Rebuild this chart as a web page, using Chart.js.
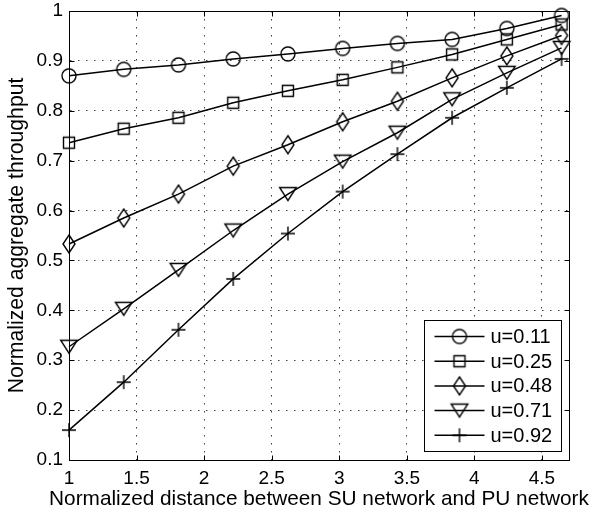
<!DOCTYPE html>
<html>
<head>
<meta charset="utf-8">
<script src="https://cdn.jsdelivr.net/npm/chart.js@4.4.1/dist/chart.umd.min.js"></script>
<style>
  html, body { margin: 0; padding: 0; background: #fff; }
</style>
</head>
<body>
<canvas id="myChart" width="592" height="515"></canvas>
<script>
// distance values along x
const distances = [1, 1.405, 1.81, 2.215, 2.62, 3.025, 3.43, 3.835, 4.24, 4.645];

const u011 = [0.870, 0.883, 0.892, 0.904, 0.914, 0.925, 0.935, 0.943, 0.965, 0.991];
const u025 = [0.736, 0.764, 0.786, 0.816, 0.840, 0.862, 0.887, 0.913, 0.943, 0.973];
const u048 = [0.533, 0.585, 0.633, 0.689, 0.732, 0.778, 0.819, 0.866, 0.910, 0.951];
const u071 = [0.327, 0.403, 0.481, 0.560, 0.633, 0.698, 0.756, 0.823, 0.876, 0.926];
const u092 = [0.160, 0.256, 0.361, 0.463, 0.554, 0.638, 0.713, 0.786, 0.846, 0.904];

const seriesLabels = ['u=0.11', 'u=0.25', 'u=0.48', 'u=0.71', 'u=0.92'];
const markerKinds = ['circle', 'square', 'diamond', 'tri', 'plus'];
const xTitle = 'Normalized distance between SU network and PU network';
const yTitle = 'Normalized aggregate throughput';

const FONT = '"Liberation Sans", Arial, Helvetica, sans-serif';

// matlab-like open markers drawn on small canvases
function makeMarker(kind) {
    const c = document.createElement('canvas');
    c.width = 24; c.height = 24;
    const g = c.getContext('2d');
    g.strokeStyle = '#000';
    g.lineWidth = 1.4;
    g.translate(12, 12);
    g.beginPath();
    if (kind == 'circle') g.arc(0, 0, 7, 0, 2 * Math.PI);
    else if (kind == 'square') g.rect(-5.5, -5.5, 11, 11);
    else if (kind == 'diamond') { g.moveTo(0, -9); g.lineTo(6, 0); g.lineTo(0, 9); g.lineTo(-6, 0); g.closePath(); }
    else if (kind == 'tri') { g.moveTo(-8.3, -6.5); g.lineTo(8.3, -6.5); g.lineTo(0, 6.5); g.closePath(); }
    else if (kind == 'plus') { g.moveTo(-7, 0); g.lineTo(7, 0); g.moveTo(0, -7); g.lineTo(0, 7); }
    g.stroke();
    return c;
}
const markers = markerKinds.map(makeMarker);

function toPoints(ys) {
    return ys.map(function(y, i) { return {x: distances[i], y: y}; });
}

const datasets = [u011, u025, u048, u071, u092].map(function(ys, i) {
    return {
        label: seriesLabels[i],
        data: toPoints(ys),
        borderColor: '#000',
        borderWidth: 1.5,
        pointStyle: markers[i],
        pointRadius: 8,
        clip: false,
        tension: 0
    };
});

// plain number labels: 1, 1.5, 0.1 ...
function plainTick(v) {
    return String(Number(v.toFixed(2)));
}

// box around the plot + inward ticks on all four sides
const boxPlugin = {
    id: 'box',
    afterDatasetsDraw(chart) {
        const ctx = chart.ctx;
        const a = chart.chartArea;
        const xs = chart.scales.x, ys = chart.scales.y;
        const L = Math.round(a.left) + 0.5, R = Math.round(a.right) + 0.5;
        const T = Math.round(a.top) + 0.5, B = Math.round(a.bottom) + 0.5;
        ctx.save();
        ctx.strokeStyle = '#000';
        ctx.lineWidth = 1;
        ctx.beginPath();
        xs.ticks.forEach(function(t) {
            const px = Math.round(xs.getPixelForValue(t.value)) + 0.5;
            ctx.moveTo(px, B); ctx.lineTo(px, B - 5);
            ctx.moveTo(px, T); ctx.lineTo(px, T + 5);
        });
        ys.ticks.forEach(function(t) {
            const py = Math.round(ys.getPixelForValue(t.value)) + 0.5;
            ctx.moveTo(L, py); ctx.lineTo(L + 5, py);
            ctx.moveTo(R, py); ctx.lineTo(R - 5, py);
        });
        ctx.stroke();
        ctx.strokeRect(L, T, R - L, B - T);
        ctx.restore();
    }
};

// x title is wider than the plot, so it is drawn here (chart.js would squeeze it)
const xTitlePlugin = {
    id: 'xTitle',
    afterDraw(chart) {
        const ctx = chart.ctx;
        const a = chart.chartArea;
        ctx.save();
        ctx.font = '20.8px ' + FONT;
        ctx.fillStyle = '#000';
        ctx.textAlign = 'center';
        ctx.textBaseline = 'middle';
        ctx.fillText(xTitle, (a.left + a.right) / 2, a.bottom + 39);
        ctx.restore();
    }
};

// legend with line + marker, bottom right inside the plot
const legendPlugin = {
    id: 'lineLegend',
    afterDraw(chart) {
        const ctx = chart.ctx;
        const a = chart.chartArea;
        const boxW = 137, rowH = 24.7;
        const boxH = 131;
        const x0 = Math.round(a.right - 8 - boxW) + 0.5;
        const y0 = Math.round(a.bottom - 9 - boxH) + 0.5;
        ctx.save();
        ctx.fillStyle = '#fff';
        ctx.fillRect(x0, y0, boxW, boxH);
        ctx.strokeStyle = '#000';
        ctx.lineWidth = 1;
        ctx.strokeRect(x0, y0, boxW, boxH);
        ctx.font = '20px ' + FONT;
        ctx.textBaseline = 'middle';
        ctx.fillStyle = '#000';
        chart.data.datasets.forEach(function(ds, i) {
            const cy = y0 + 16 + i * rowH;
            ctx.beginPath();
            ctx.lineWidth = 1.5;
            ctx.moveTo(x0 + 10, cy);
            ctx.lineTo(x0 + 60, cy);
            ctx.stroke();
            const m = ds.pointStyle;
            ctx.drawImage(m, x0 + 35 - m.width / 2, cy - m.height / 2);
            ctx.fillText(ds.label, x0 + 66, cy + 1);
        });
        ctx.restore();
    }
};

const config = {
    type: 'line',
    data: {datasets: datasets},
    options: {
        responsive: false,
        animation: false,
        devicePixelRatio: 1,
        events: [],
        layout: {padding: {left: 0, top: 11, right: 23, bottom: 0}},
        plugins: {legend: {display: false}, tooltip: {enabled: false}},
        scales: {
            x: {
                type: 'linear',
                min: 1,
                max: 4.7,
                afterFit: function(s) { s.height = 55; s.paddingLeft = 0; s.paddingRight = 0; },
                ticks: {stepSize: 0.5, includeBounds: false, color: '#000', padding: 7,
                        font: {family: FONT, size: 19}, callback: plainTick},
                grid: {color: 'rgba(0,0,0,0.75)', lineWidth: 1, drawTicks: false},
                border: {display: true, color: '#000', dash: [1.5, 6.5]},
                title: {display: false}
            },
            y: {
                type: 'linear',
                min: 0.1,
                max: 1,
                afterFit: function(s) { s.width = 69; s.paddingTop = 0; s.paddingBottom = 0; },
                ticks: {stepSize: 0.1, color: '#000', padding: 6,
                        font: {family: FONT, size: 19}, callback: plainTick},
                grid: {color: 'rgba(0,0,0,0.75)', lineWidth: 1, drawTicks: false},
                border: {display: true, color: '#000', dash: [1.5, 6.5]},
                title: {display: true, text: yTitle, color: '#000',
                        font: {family: FONT, size: 21.2}, padding: {top: 4, bottom: 0}}
            }
        }
    },
    plugins: [boxPlugin, xTitlePlugin, legendPlugin]
};

const myChart = new Chart(document.getElementById('myChart'), config);
</script>
</body>
</html>
